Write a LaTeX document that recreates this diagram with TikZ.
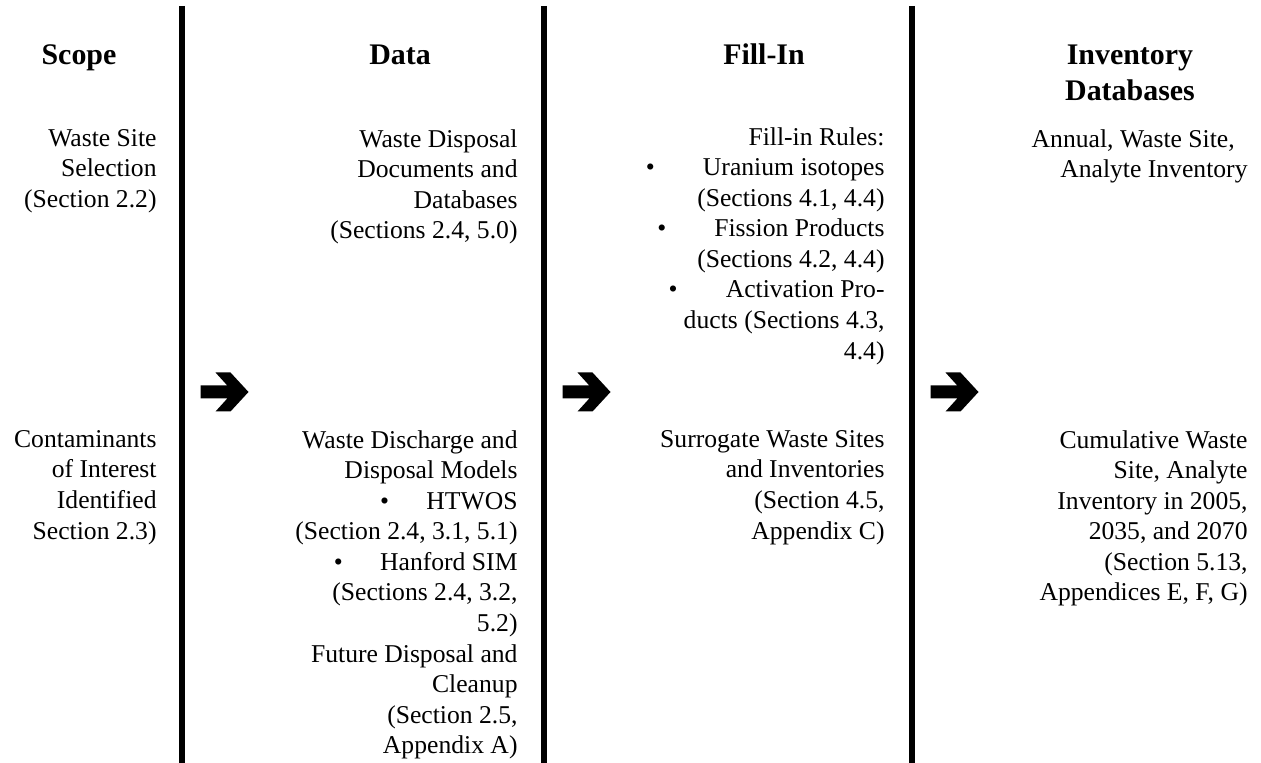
\documentclass[tikz,border=0pt]{standalone}
\usepackage{fontspec}
\setmainfont{Liberation Serif}
\usepackage{tikz}
\usetikzlibrary{positioning,calc}
\newcommand{\bodyfont}{\fontsize{12}{14.3}\selectfont}
\newcommand{\headfont}{\fontsize{14}{16.4}\selectfont\bfseries}
\newcommand{\bul}[1][17.5pt]{\textbullet\hspace{#1}}
\tikzset{
    divider/.style = {line width=2.8pt, draw=black},
    head/.style    = {anchor=base, align=center, inner sep=0pt, font=\headfont},
    cell/.style    = {anchor=north east, align=right, inner sep=0pt,
            font=\bodyfont, execute at begin node=\strut},
    fatarrow/.pic  = {\fill (0,-6.5) -- (26.8,-6.5) -- (15,-19.5) -- (30,-19.5)
            -- (48,0) -- (30,19.5) -- (15,19.5) -- (26.8,6.5) -- (0,6.5) -- cycle;},
}
\begin{document}
\begin{tikzpicture}[x=0.468pt,y=-0.468pt]
    \useasboundingbox (0,0) rectangle (1261,763);
    % Dividers
    \foreach \i/\x in {1/182,2/544,3/912}{
        \coordinate (top\i) at (\x,6);
        \coordinate (bot\i) at (\x,763);
        \draw[divider] (top\i) -- (bot\i);
    }
    % Headers
    \node[head] (scope) at (79,65) {Scope};
    \node[head] (data) at (400,65) {Data};
    \node[head] (fillin) at (764,65) {Fill-In};
    \node[head] (inv) at (1130,65) {Inventory};
    \node[head, below=0pt of inv.base, anchor=base, yshift=-16.4pt] (db) {Databases};
    % First row
    \node[cell] (selection) at (157,129) {Waste Site\\Selection\\(Section 2.2)};
    \node[cell] (docs) at (518,129) {Waste Disposal\\Documents and\\Databases\\(Sections 2.4, 5.0)};
    \node[cell] (rules) at (885,127) {Fill-in Rules:\\\bul[19.5pt] Uranium isotopes\\(Sections 4.1, 4.4)\\
        \bul[19.5pt] Fission Products\\(Sections 4.2, 4.4)\\\bul[19.5pt] Activation Pro-\\ducts (Sections 4.3,\\4.4)};
    \node[cell] (annual) at (1248,129) {Annual, Waste Site,\hspace*{6pt}\\Analyte Inventory};
    % Second row
    \node[cell] (coi) at (157,430) {Contaminants\\of Interest\\Identified\\Section 2.3)};
    \node[cell] (models) at (518,430) {Waste Discharge and\\Disposal Models\\\bul HTWOS\\
        (Section 2.4, 3.1, 5.1)\\\bul Hanford SIM\\(Sections 2.4, 3.2,\\5.2)\\
        Future Disposal and\\Cleanup\\(Section 2.5,\\Appendix A)};
    \node[cell] (surrogate) at (885,430) {Surrogate Waste Sites\\and Inventories\\(Section 4.5,\\Appendix C)};
    \node[cell] (cumulative) at (1248,430) {Cumulative Waste\\Site, Analyte\\Inventory in 2005,\\
        2035, and 2070\\(Section 5.13,\\Appendices E, F, G)};
    % Arrows
    \foreach \i in {1,2,3}
        \pic (arr\i) at ($(top\i)+(18.5,386)$) {fatarrow};
\end{tikzpicture}
\end{document}
